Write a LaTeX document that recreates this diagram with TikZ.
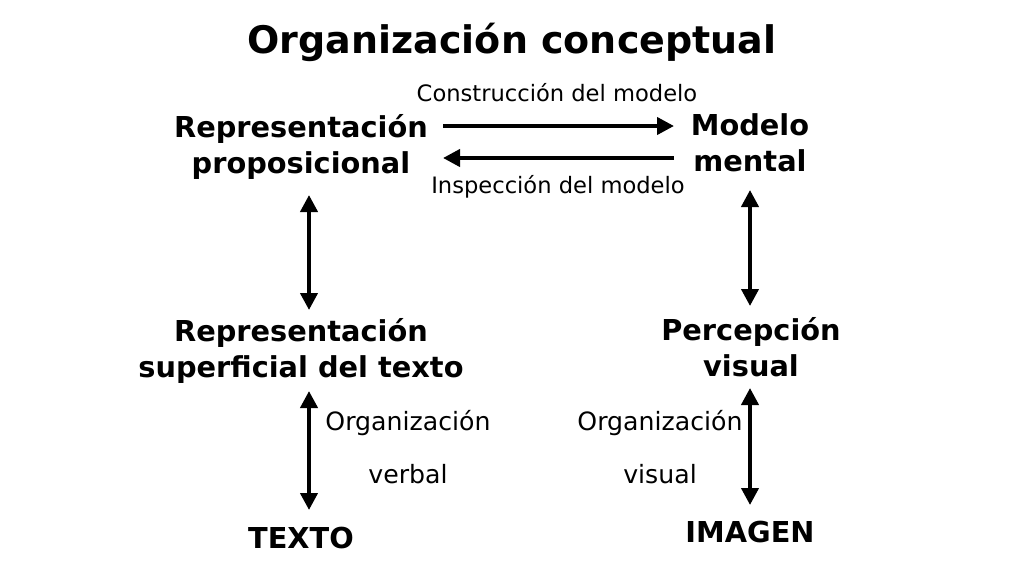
\documentclass[tikz,border=0pt]{standalone}
\usepackage{fontspec}
\setmainfont{DejaVu Sans}
\usetikzlibrary{arrows.meta}
\begin{document}
\begin{tikzpicture}[x=1pt,y=-1pt,
  big/.style={font=\bfseries\fontsize{28.8}{36}\selectfont, align=center, inner sep=0pt},
  lbl/.style={font=\fontsize{22.6}{26}\selectfont, inner sep=0pt},
  lbl2/.style={font=\fontsize{25.2}{28}\selectfont, inner sep=0pt},
  arr/.style={line width=4pt, -{Triangle[length=17pt,width=17pt]}},
  darr/.style={line width=4pt, {Triangle[length=17pt,width=17pt]}-{Triangle[length=17pt,width=17pt]}}]
\useasboundingbox (0,0) rectangle (1024,576);
\fill[white] (0,0) rectangle (1024,576);
\node[font=\bfseries\fontsize{38}{42}\selectfont, inner sep=0pt] (title) at (512,42) {Organización conceptual};
\node[big] (rp) at (301,147) {Representación\\proposicional};
\node[big] (mm) at (750,143) {Modelo\\mental};
\node[big] (rs) at (301,351) {Representación\\superficial del texto};
\node[big] (pv) at (751,347) {Percepción\\visual};
\node[big] (tx) at (301,538) {TEXTO};
\node[big] (im) at (750,532) {IMAGEN};
\coordinate (a1s) at (443,126); \coordinate (a1e) at (674,126);
\coordinate (a2s) at (674,158); \coordinate (a2e) at (443,158);
\draw[arr] (a1s) -- (a1e);
\draw[arr] (a2s) -- (a2e);
\node[lbl] (c) at (557,93) {Construcción del modelo};
\node[lbl] (i) at (558,187) {Inspección del modelo};
\coordinate (l1t) at (309,195); \coordinate (l1b) at (309,310);
\coordinate (r1t) at (750,190); \coordinate (r1b) at (750,306);
\coordinate (l2t) at (309,391); \coordinate (l2b) at (309,510);
\coordinate (r2t) at (750,388); \coordinate (r2b) at (750,505);
\draw[darr] (l1t) -- (l1b);
\draw[darr] (r1t) -- (r1b);
\draw[darr] (l2t) -- (l2b);
\draw[darr] (r2t) -- (r2b);
\node[lbl2] (ov1) at (408,423) {Organización};
\node[lbl2] (v1) at (408,474) {verbal};
\node[lbl2] (ov2) at (660,423) {Organización};
\node[lbl2] (v2) at (660,474) {visual};
\end{tikzpicture}
\end{document}
